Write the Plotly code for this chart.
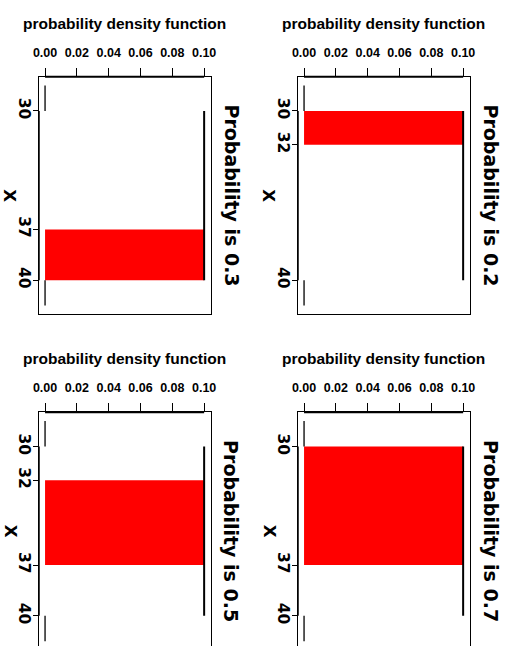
import plotly.graph_objects as go

# ---- data ----
panel_titles = ["Probability is 0.3", "Probability is 0.2", "Probability is 0.5", "Probability is 0.7"]
shade_lo = [37, 30, 32, 30]
shade_hi = [40, 32, 37, 37]
density_value = 0.1
support = [30, 40]
curve_span = [28.5, 41.5]
x_tick_panels = [[30, 37, 40], [30, 32, 40], [30, 32, 37, 40], [30, 37, 40]]
pdf_ticks = [0.00, 0.02, 0.04, 0.06, 0.08, 0.10]
pdf_tick_labels = ["0.00", "0.02", "0.04", "0.06", "0.08", "0.10"]
pdf_label = "probability density function"
x_label = "X"

W, H = 508, 646
# panel boxes in pixels (left, right, top, bottom)
boxes = [(39.0, 210.5, 76.7, 313.7), (298.0, 469.5, 76.7, 313.7),
         (39.0, 210.5, 412.3, 646.0), (298.0, 469.5, 412.3, 646.0)]
px_per_unit = 16.93
y_lo = 27.98

NARROW = "Liberation Sans, Arial, sans-serif"
WIDE = "DejaVu Sans, sans-serif"

fig = go.Figure()
layout = dict(width=W, height=H, margin=dict(l=0, r=0, t=0, b=0, pad=0), autosize=False,
              plot_bgcolor="white", paper_bgcolor="white", showlegend=False)
annotations = []
shapes = []

for i in range(4):
    L, R, T, B = boxes[i]
    sfx = "" if i == 0 else str(i + 1)
    xa, ya = "x" + sfx, "y" + sfx
    lo, hi = shade_lo[i], shade_hi[i]
    # shaded probability
    fig.add_trace(go.Bar(x=[density_value], y=[(lo + hi) / 2], width=[hi - lo], orientation="h",
                         marker=dict(color="#ff0000", line=dict(width=0)), xaxis=xa, yaxis=ya))
    # density curve pieces
    fig.add_trace(go.Scatter(x=[0, 0], y=[curve_span[0], support[0]], mode="lines",
                             line=dict(color="black", width=1.3), xaxis=xa, yaxis=ya))
    fig.add_trace(go.Scatter(x=[density_value, density_value], y=[support[0], support[1]], mode="lines",
                             line=dict(color="black", width=2), xaxis=xa, yaxis=ya))
    fig.add_trace(go.Scatter(x=[0, 0], y=[support[1], curve_span[1]], mode="lines",
                             line=dict(color="black", width=1.3), xaxis=xa, yaxis=ya))

    y_hi = y_lo + (B - T) / px_per_unit
    bottom_cut = i >= 2
    layout["xaxis" + sfx] = dict(
        domain=[L / W, R / W], anchor=ya, side="top", range=[-0.0038, 0.104],
        tickvals=pdf_ticks, ticktext=pdf_tick_labels, ticks="outside", ticklen=8,
        tickwidth=1, tickcolor="black", showline=True, linecolor="black", linewidth=1,
        mirror=(not bottom_cut), showgrid=False, zeroline=False, automargin=False,
        tickfont=dict(family=NARROW, size=12.5, color="black", weight="bold"),
        ticklabelstandoff=6, fixedrange=True)
    layout["yaxis" + sfx] = dict(
        domain=[1 - B / H, 1 - T / H], anchor=xa, side="left", range=[y_hi, y_lo],
        tickvals=x_tick_panels[i], ticktext=[str(v) for v in x_tick_panels[i]],
        ticks="outside", ticklen=5, tickwidth=1, tickcolor="black", tickangle=90,
        showline=True, linecolor="black", linewidth=1, mirror=True, automargin=False,
        showgrid=False, zeroline=False, ticklabelstandoff=-5,
        tickfont=dict(family=WIDE, size=15.5, color="black", weight="bold"), fixedrange=True)

    # axis line segments (R style, heavier over the box)
    shapes.append(dict(type="line", xref=xa, yref=ya + " domain", x0=pdf_ticks[0], x1=pdf_ticks[-1],
                       y0=1, y1=1, line=dict(color="black", width=2)))
    shapes.append(dict(type="line", xref=xa + " domain", yref=ya, x0=0, x1=0,
                       y0=x_tick_panels[i][0], y1=x_tick_panels[i][-1], line=dict(color="black", width=1.5)))

    cy = T + 118.5  # vertical centre of full panel box
    annotations.append(dict(text=pdf_label, xref="paper", yref="paper", x=(L + R) / 2 / W,
                            y=1 - (T - 53.5) / H, xanchor="center", yanchor="middle", showarrow=False,
                            font=dict(family=NARROW, size=15.5, color="black", weight="bold")))
    annotations.append(dict(text=panel_titles[i], xref="paper", yref="paper", x=(R + 21.2) / W,
                            y=1 - cy / H, xanchor="center", yanchor="middle", textangle=90, showarrow=False,
                            font=dict(family=WIDE, size=19, color="black", weight="bold")))
    annotations.append(dict(text=x_label, xref="paper", yref="paper", x=(L - 29.0) / W,
                            y=1 - cy / H, xanchor="center", yanchor="middle", textangle=90, showarrow=False,
                            font=dict(family=WIDE, size=16.5, color="black", weight="bold")))

layout["annotations"] = annotations
layout["shapes"] = shapes
fig.update_layout(**layout)
fig.write_html("out.html", config={"displayModeBar": False},
               post_script="document.body.style.margin='0';document.body.style.overflow='hidden';")
